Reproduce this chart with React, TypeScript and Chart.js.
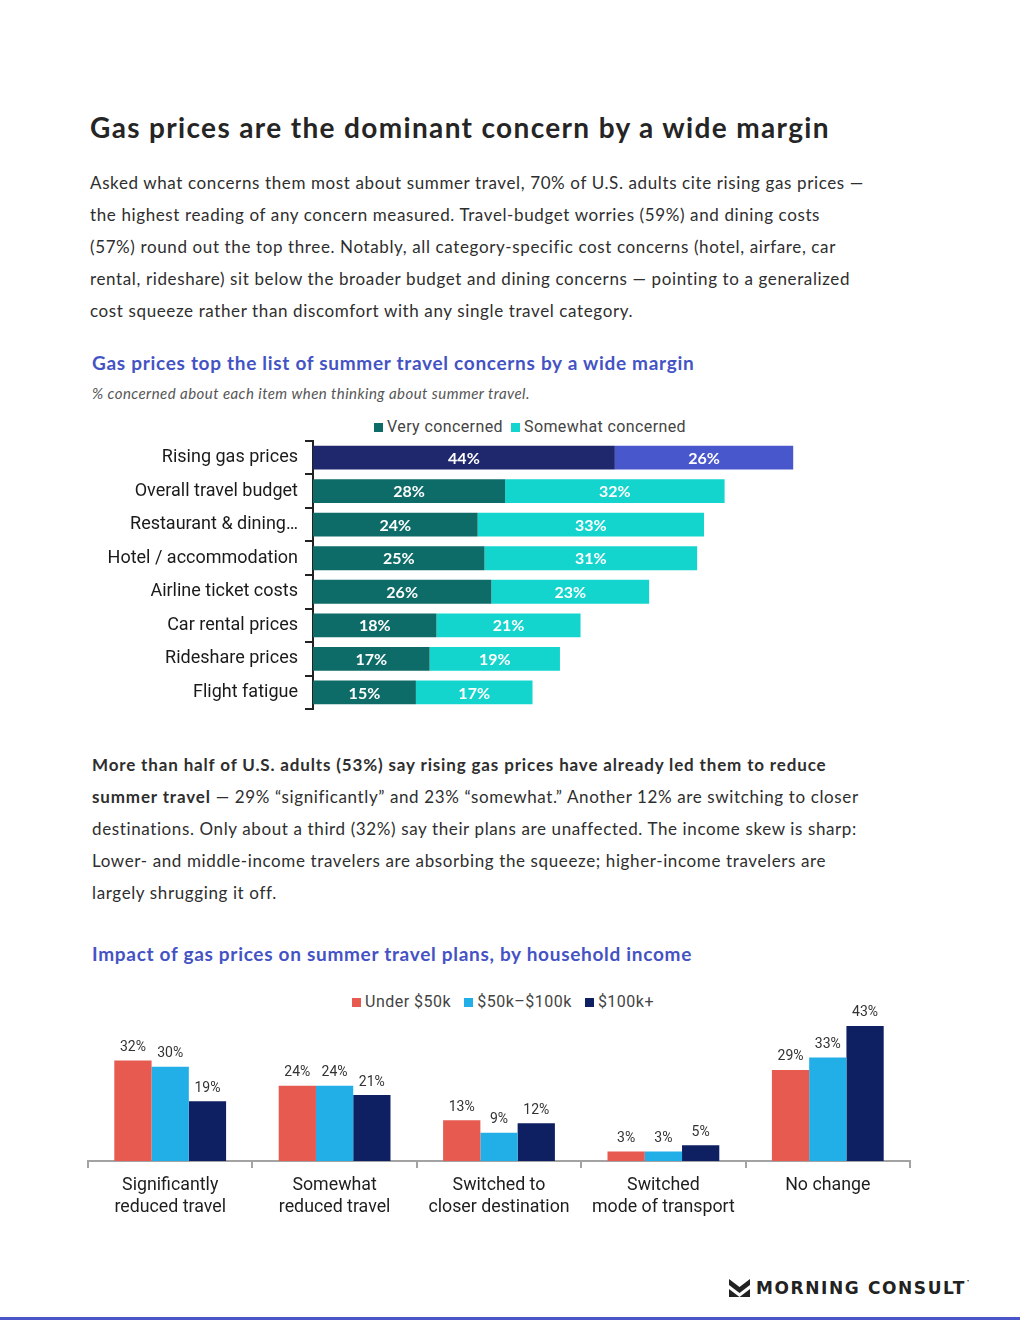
import React, { useEffect, useRef } from "react";
import { Chart, registerables } from "chart.js";
Chart.register(...registerables);

const concernCategories = [
  "Rising gas prices",
  "Overall travel budget",
  "Restaurant & dining…",
  "Hotel / accommodation",
  "Airline ticket costs",
  "Car rental prices",
  "Rideshare prices",
  "Flight fatigue",
];
const veryConcerned = [44, 28, 24, 25, 26, 18, 17, 15];
const somewhatConcerned = [26, 32, 33, 31, 23, 21, 19, 17];
const concernLegend = ["Very concerned", "Somewhat concerned"];

const impactCategories = [
  ["Significantly", "reduced travel"],
  ["Somewhat", "reduced travel"],
  ["Switched to", "closer destination"],
  ["Switched", "mode of transport"],
  ["No change"],
];
const under50k = [32, 24, 13, 3, 29];
const mid50to100k = [30, 24, 9, 3, 33];
const over100k = [19, 21, 12, 5, 43];
const incomeLegend = ["Under $50k", "$50k–$100k", "$100k+"];

const C_VERY = "#0d6b68";
const C_SOME = "#14d5ce";
const C_GAS_VERY = "#1f276d";
const C_GAS_SOME = "#4957cc";
const C_RED = "#e65a50";
const C_BLUE = "#22aee6";
const C_NAVY = "#0e1f62";
const TITLE_BLUE = "#4453c4";
const BODY = "Lato, 'Open Sans', sans-serif";
const LABEL = "Roboto, 'Liberation Sans', sans-serif";

const stackedLabelPlugin = {
  id: "stackedLabels",
  afterDatasetsDraw(chart: any) {
    const ctx = chart.ctx;
    ctx.save();
    ctx.fillStyle = "#ffffff";
    ctx.font = `bold 16px ${BODY}`;
    ctx.textAlign = "center";
    ctx.textBaseline = "middle";
    chart.data.datasets.forEach((ds: any, di: number) => {
      const meta = chart.getDatasetMeta(di);
      meta.data.forEach((el: any, i: number) => {
        const p = el.getCenterPoint();
        ctx.fillText(`${ds.data[i]}%`, p.x, p.y + 1);
      });
    });
    ctx.restore();
  },
};

const topLabelPlugin = {
  id: "topLabels",
  afterDatasetsDraw(chart: any) {
    const ctx = chart.ctx;
    ctx.save();
    ctx.fillStyle = "#333333";
    ctx.font = `14px ${LABEL}`;
    ctx.textAlign = "center";
    ctx.textBaseline = "bottom";
    chart.data.datasets.forEach((ds: any, di: number) => {
      const meta = chart.getDatasetMeta(di);
      meta.data.forEach((el: any, i: number) => {
        ctx.fillText(`${ds.data[i]}%`, el.x, el.y - 6);
      });
    });
    ctx.restore();
  },
};

function ConcernChart() {
  const ref = useRef<HTMLCanvasElement>(null);
  useEffect(() => {
    const chart = new Chart(ref.current as HTMLCanvasElement, {
      type: "bar",
      data: {
        labels: concernCategories,
        datasets: [
          {
            label: concernLegend[0],
            data: veryConcerned,
            backgroundColor: veryConcerned.map((_, i) => (i === 0 ? C_GAS_VERY : C_VERY)),
          },
          {
            label: concernLegend[1],
            data: somewhatConcerned,
            backgroundColor: somewhatConcerned.map((_, i) => (i === 0 ? C_GAS_SOME : C_SOME)),
          },
        ],
      },
      options: {
        indexAxis: "y",
        animation: false,
        responsive: false,
        maintainAspectRatio: false,
        layout: { padding: { top: 10, bottom: 10, left: 0, right: 11 } },
        datasets: { bar: { categoryPercentage: 1, barPercentage: 0.71 } },
        plugins: { legend: { display: false }, tooltip: { enabled: false } },
        scales: {
          x: { stacked: true, display: false, min: 0, max: 100 },
          y: {
            stacked: true,
            afterFit: (s: any) => {
              s.width = 223;
            },
            grid: {
              display: true,
              drawOnChartArea: false,
              color: "#222",
              lineWidth: 2,
              tickLength: 8,
            },
            border: { display: true, color: "#222", width: 2 },
            ticks: { color: "#1a1a1a", font: { family: LABEL, size: 18 }, padding: 7 },
          },
        },
      } as any,
      plugins: [stackedLabelPlugin],
    });
    return () => chart.destroy();
  }, []);
  return (
    <canvas
      ref={ref}
      width={920}
      height={304}
      style={{ position: "absolute", left: 90, top: 423, width: 920, height: 304 }}
    />
  );
}

function ImpactChart() {
  const ref = useRef<HTMLCanvasElement>(null);
  useEffect(() => {
    const chart = new Chart(ref.current as HTMLCanvasElement, {
      type: "bar",
      data: {
        labels: impactCategories,
        datasets: [
          { label: incomeLegend[0], data: under50k, backgroundColor: C_RED },
          { label: incomeLegend[1], data: mid50to100k, backgroundColor: C_BLUE },
          { label: incomeLegend[2], data: over100k, backgroundColor: C_NAVY },
        ],
      },
      options: {
        animation: false,
        responsive: false,
        maintainAspectRatio: false,
        layout: { padding: { top: 14, bottom: 0, left: 10, right: 10 } },
        datasets: { bar: { categoryPercentage: 0.68, barPercentage: 1 } },
        plugins: { legend: { display: false }, tooltip: { enabled: false } },
        scales: {
          y: { display: false, min: 0, max: 50 },
          x: {
            afterFit: (s: any) => {
              s.height = 69;
            },
            grid: {
              display: true,
              drawOnChartArea: false,
              color: "#a3a3a3",
              lineWidth: 2,
              tickLength: 7,
            },
            border: { display: true, color: "#a3a3a3", width: 2 },
            ticks: {
              color: "#1e1e1e",
              font: { family: LABEL, size: 17.8, lineHeight: 1.22 },
              padding: 7,
              maxRotation: 0,
            },
          },
        },
      } as any,
      plugins: [topLabelPlugin],
    });
    return () => chart.destroy();
  }, []);
  return (
    <canvas
      ref={ref}
      width={842}
      height={240}
      style={{ position: "absolute", left: 78, top: 990, width: 842, height: 240 }}
    />
  );
}

function LegendItem({ color, text, gap }: { color: string; text: string; gap: number }) {
  return (
    <span style={{ display: "inline-flex", alignItems: "center", marginRight: gap }}>
      <span style={{ width: 9, height: 9, background: color, display: "inline-block", marginRight: 4 }} />
      <span>{text}</span>
    </span>
  );
}

const abs = (left: number, top: number, extra: any = {}) => ({
  position: "absolute" as const,
  left,
  top,
  whiteSpace: "nowrap" as const,
  ...extra,
});

const para1 = [
  "Asked what concerns them most about summer travel, 70% of U.S. adults cite rising gas prices —",
  "the highest reading of any concern measured. Travel-budget worries (59%) and dining costs",
  "(57%) round out the top three. Notably, all category-specific cost concerns (hotel, airfare, car",
  "rental, rideshare) sit below the broader budget and dining concerns — pointing to a generalized",
  "cost squeeze rather than discomfort with any single travel category.",
];

export default function App() {
  const bodyStyle = { fontFamily: BODY, fontSize: 17, color: "#2e2e2e", lineHeight: "32px", letterSpacing: 0.62 };
  const boldStyle = { fontWeight: 700, letterSpacing: 0.85 };
  return (
    <div style={{ position: "absolute", left: 0, top: 0, width: 1020, height: 1320, background: "#fff", overflow: "hidden" }}>
      <div style={abs(90, 108, { fontFamily: BODY, fontWeight: 700, fontSize: 28, color: "#252525", lineHeight: "38px", letterSpacing: 1.35 })}>
        Gas prices are the dominant concern by a wide margin
      </div>
      <div style={abs(90, 167, bodyStyle)}>
        {para1.map((l, i) => (
          <div key={i}>{l}</div>
        ))}
      </div>
      <div style={abs(92, 350, { fontFamily: BODY, fontWeight: 700, fontSize: 19, color: TITLE_BLUE, lineHeight: "26px", letterSpacing: 0.7 })}>
        Gas prices top the list of summer travel concerns by a wide margin
      </div>
      <div style={abs(92, 384, { fontFamily: BODY, fontStyle: "italic", fontSize: 15, color: "#555", lineHeight: "18px", letterSpacing: 0.45 })}>
        % concerned about each item when thinking about summer travel.
      </div>
      <div style={abs(374, 417, { fontFamily: LABEL, fontSize: 16, color: "#444", lineHeight: "20px", letterSpacing: 0.4, display: "flex" })}>
        <LegendItem color={C_VERY} text={concernLegend[0]} gap={8} />
        <LegendItem color={C_SOME} text={concernLegend[1]} gap={0} />
      </div>
      <ConcernChart />
      <div style={abs(92, 749, bodyStyle)}>
        <div>
          <span style={boldStyle}>More than half of U.S. adults (53%) say rising gas prices have already led them to reduce</span>
        </div>
        <div>
          <span style={boldStyle}>summer travel</span> — 29% “significantly” and 23% “somewhat.” Another 12% are switching to closer
        </div>
        <div>destinations. Only about a third (32%) say their plans are unaffected. The income skew is sharp:</div>
        <div>Lower- and middle-income travelers are absorbing the squeeze; higher-income travelers are</div>
        <div>largely shrugging it off.</div>
      </div>
      <div style={abs(92, 941, { fontFamily: BODY, fontWeight: 700, fontSize: 19, color: TITLE_BLUE, lineHeight: "26px", letterSpacing: 0.7 })}>
        Impact of gas prices on summer travel plans, by household income
      </div>
      <div style={abs(352, 992, { fontFamily: LABEL, fontSize: 16, color: "#444", lineHeight: "20px", letterSpacing: 0.5, display: "flex" })}>
        <LegendItem color={C_RED} text={incomeLegend[0]} gap={13} />
        <LegendItem color={C_BLUE} text={incomeLegend[1]} gap={13} />
        <LegendItem color={C_NAVY} text={incomeLegend[2]} gap={0} />
      </div>
      <ImpactChart />
      <div style={abs(729, 1278, { display: "flex", alignItems: "center" })}>
        <svg width="21" height="19" viewBox="0 0 21 19" style={{ marginRight: 6 }}>
          <polygon points="0,0 10.5,8 21,0 21,6 10.5,14 0,6" fill="#222" />
          <polygon points="0,10 10.5,18 0,18" fill="#222" />
          <polygon points="21,10 21,18 10.5,18" fill="#222" />
        </svg>
        <span style={{ fontFamily: "'DejaVu Sans', sans-serif", fontWeight: 700, fontSize: 17, letterSpacing: 1.6, color: "#222", lineHeight: "20px" }}>
          MORNING CONSULT
        </span>
        <span style={{ fontSize: 6, color: "#222", marginLeft: 1, alignSelf: "flex-start" }}>•</span>
      </div>
      <div style={{ position: "absolute", left: 0, top: 1317, width: 1020, height: 3, background: "#4a55c8" }} />
    </div>
  );
}
